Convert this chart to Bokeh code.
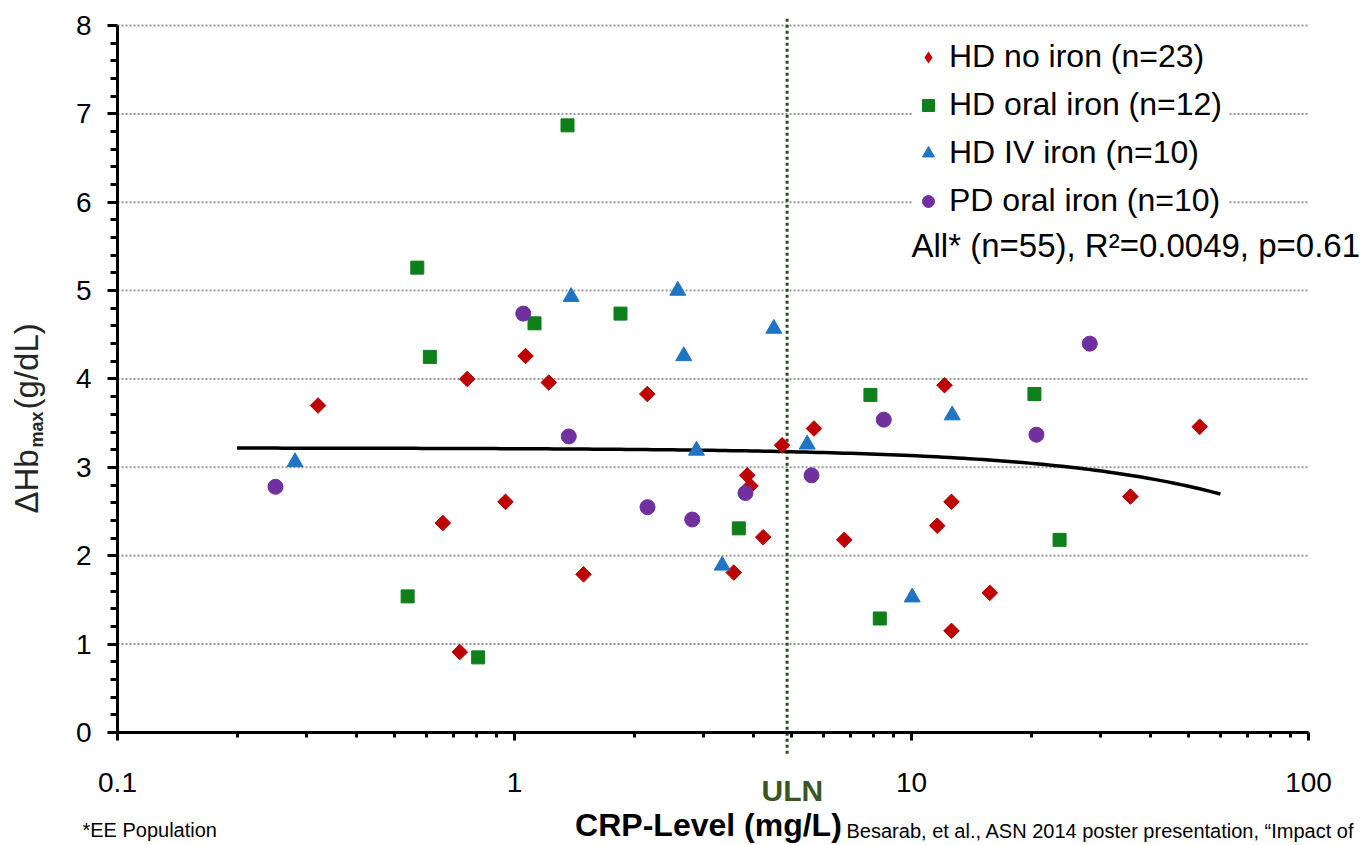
import numpy as np
from bokeh.plotting import figure
from bokeh.models import (Range1d, FixedTicker, CustomJSTickFormatter,
                          Label, Legend, LegendItem)
from bokeh.embed import file_html
from bokeh.resources import INLINE

FONT = "Liberation Sans"

# ---------------- data ----------------
hd_no_iron_crp = [0.320, 0.660, 0.728, 0.760, 0.949, 1.066, 1.220, 1.492, 2.160, 3.567, 3.857, 3.93,
                  4.23, 4.72, 5.68, 6.77, 11.61, 12.11, 12.61, 12.61, 15.75, 35.6, 53.2]
hd_no_iron_dhb = [3.70, 2.37, 0.91, 4.00, 2.61, 4.26, 3.96, 1.79, 3.83, 1.81, 2.91, 2.79,
                  2.21, 3.25, 3.44, 2.18, 2.34, 3.93, 2.61, 1.15, 1.58, 2.67, 3.46]

hd_oral_crp = [1.360, 0.569, 0.612, 1.123, 1.849, 0.538, 0.810, 3.673, 7.88, 8.32, 20.4, 23.6]
hd_oral_dhb = [6.87, 5.26, 4.25, 4.63, 4.74, 1.54, 0.85, 2.31, 3.82, 1.29, 3.83, 2.18]

hd_iv_crp = [0.280, 1.389, 2.578, 2.669, 2.873, 3.336, 4.50, 5.46, 10.04, 12.66]
hd_iv_dhb = [3.06, 4.93, 5.00, 4.26, 3.19, 1.89, 4.57, 3.26, 1.53, 3.59]

pd_oral_crp = [0.250, 1.052, 1.370, 2.163, 2.803, 3.818, 5.60, 8.515, 20.64, 28.12]
pd_oral_dhb = [2.78, 4.74, 3.35, 2.55, 2.41, 2.71, 2.91, 3.54, 3.37, 4.40]

series_labels = ["HD no iron (n=23)", "HD oral iron (n=12)", "HD IV iron (n=10)", "PD oral iron (n=10)"]
stats_text = "All* (n=55), R\u00b2=0.0049,  p=0.61"

# linear regression line (dHb = a + b * CRP)
fit_intercept = 3.22
fit_slope = -0.0087
fit_crp_min, fit_crp_max = 0.2, 60.0

uln_crp = 4.86

x_major_ticks = [0.1, 1, 10, 100]
x_minor_ticks = [m * 10.0 ** e for e in (-1, 0, 1) for m in range(2, 10)]
y_major_ticks = list(range(0, 9))
y_minor_ticks = [i / 5 for i in range(0, 41) if i % 5 != 0]
x_lo, x_hi = 0.1, 100
y_lo, y_hi = 0, 8

# ---------------- figure ----------------
# the frame covers the whole canvas; axes sit at fixed data locations
p = figure(width=1367, height=845, x_axis_type="log",
           x_range=Range1d(0.05073, 140.8), y_range=Range1d(-1.2787, 8.2829),
           output_backend="svg", toolbar_location=None,
           min_border_left=0, min_border_right=0, min_border_top=0, min_border_bottom=0)
p.outline_line_color = None
p.background_fill_color = "white"
p.border_fill_color = "white"
p.xgrid.visible = False
p.ygrid.visible = False

p.xaxis.ticker = FixedTicker(ticks=x_major_ticks, minor_ticks=x_minor_ticks)
p.yaxis.ticker = FixedTicker(ticks=y_major_ticks, minor_ticks=y_minor_ticks)
p.xaxis.formatter = CustomJSTickFormatter(code="return tick.toString();")
p.xaxis.bounds = (x_lo, x_hi)
p.yaxis.bounds = (y_lo, y_hi)
p.xaxis.fixed_location = y_lo
p.yaxis.fixed_location = x_lo

for ax in (p.xaxis[0], p.yaxis[0]):
    ax.axis_line_width = 3
    ax.axis_line_color = "black"
    ax.major_tick_line_width = 3
    ax.minor_tick_line_width = 3
    ax.major_tick_line_color = "black"
    ax.minor_tick_line_color = "black"
    ax.major_tick_in = 0
    ax.minor_tick_in = 0
    ax.major_label_text_font = FONT
    ax.major_label_text_font_size = "28px"
    ax.major_label_text_color = "black"
    ax.axis_label = None

p.xaxis.major_tick_out = 8
p.xaxis.minor_tick_out = 5
p.xaxis.major_label_standoff = 33
p.yaxis.major_tick_out = 10
p.yaxis.minor_tick_out = 7
p.yaxis.major_label_standoff = 16

# horizontal dotted grid lines at the major y ticks
grid_y = y_major_ticks[1:]
p.segment(x0=[x_lo] * len(grid_y), y0=grid_y, x1=[x_hi] * len(grid_y), y1=grid_y,
          line_color="#999999", line_width=2, line_dash="2 2")

# ULN vertical dotted line
p.segment(x0=[uln_crp], y0=[-0.24], x1=[uln_crp], y1=[8.09], line_color="#2d4a1e",
          line_width=3, line_dash="3 3")

# regression line
fit_x = np.geomspace(fit_crp_min, fit_crp_max, 150)
fit_y = fit_intercept + fit_slope * fit_x
p.line(fit_x, fit_y, line_color="black", line_width=3.5)

RED, GREEN, BLUE, PURPLE = "#c00000", "#0e7f1a", "#1f74c4", "#7030a0"
# diamond key glyph for the legend (lies fully hidden under the rotated squares)
r_red_key = p.scatter(hd_no_iron_crp, hd_no_iron_dhb, marker="diamond", size=11,
                      fill_color=RED, line_color=None)
r_red = p.scatter(hd_no_iron_crp, hd_no_iron_dhb, marker="square", angle=np.pi / 4, size=11,
                  fill_color=RED, line_color="#b00000", line_width=1)
r_green = p.scatter(hd_oral_crp, hd_oral_dhb, marker="square", size=13,
                    fill_color=GREEN, line_color=GREEN, line_width=1)
r_blue = p.scatter(hd_iv_crp, hd_iv_dhb, marker="triangle", size=16,
                   fill_color=BLUE, line_color=BLUE, line_width=1)
r_purple = p.scatter(pd_oral_crp, pd_oral_dhb, marker="circle", size=15,
                     fill_color=PURPLE, line_color=PURPLE, line_width=1)

legend = Legend(items=[LegendItem(label=series_labels[0], renderers=[r_red_key]),
                       LegendItem(label=series_labels[1], renderers=[r_green]),
                       LegendItem(label=series_labels[2], renderers=[r_blue]),
                       LegendItem(label=series_labels[3], renderers=[r_purple])],
                location=(913, 626), padding=14, spacing=11,
                glyph_height=36, glyph_width=30, label_height=36, label_width=279,
                label_standoff=6, label_text_font=FONT, label_text_font_size="32px",
                label_text_color="black",
                background_fill_color="white", background_fill_alpha=1.0,
                border_line_color=None, margin=0)
p.add_layout(legend)

p.add_layout(Label(x=10.0, y=5.51, text=stats_text, text_font=FONT, text_font_size="33px",
                   text_align="left", text_baseline="middle", text_color="black"))

# x-axis annotations
p.add_layout(Label(x=5.01, y=-0.656, text="ULN", text_font=FONT, text_font_size="30px",
                   text_font_style="bold", text_color="#385723",
                   text_align="center", text_baseline="middle"))
p.add_layout(Label(x=3.08, y=-1.052, text="CRP-Level (mg/L)", text_font=FONT, text_font_size="32px",
                   text_font_style="bold", text_color="black",
                   text_align="center", text_baseline="middle"))
p.add_layout(Label(x=6.86, y=-1.109,
                   text="Besarab, et al., ASN 2014 poster presentation, \u201cImpact of",
                   text_font=FONT, text_font_size="20px", text_color="black",
                   text_align="left", text_baseline="middle"))
p.add_layout(Label(x=0.0816, y=-1.098, text="*EE Population", text_font=FONT,
                   text_font_size="20px", text_color="black",
                   text_align="left", text_baseline="middle"))

# y-axis label: ΔHb_max (g/dL), rotated
ylab_color = "#262626"
p.add_layout(Label(x=0.05899, y=2.477, text="\u0394Hb", angle=np.pi / 2, text_font=FONT,
                   text_font_size="33px", text_color=ylab_color,
                   text_align="left", text_baseline="middle"))
p.add_layout(Label(x=0.06252, y=3.225, text="max", angle=np.pi / 2, text_font=FONT,
                   text_font_size="18px", text_font_style="bold", text_color=ylab_color,
                   text_align="left", text_baseline="middle"))
p.add_layout(Label(x=0.05899, y=3.655, text="(g/dL)", angle=np.pi / 2, text_font=FONT,
                   text_font_size="33px", text_color=ylab_color,
                   text_align="left", text_baseline="middle"))

open("out.html", "w").write(file_html(p, INLINE))
